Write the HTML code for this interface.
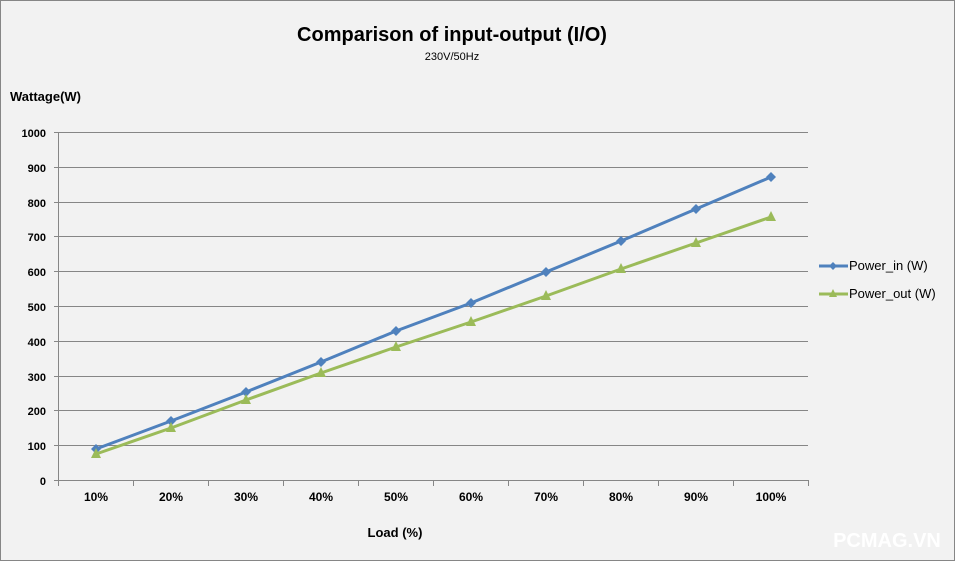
<!DOCTYPE html>
<html><head><meta charset="utf-8"><style>
html,body{margin:0;padding:0;background:#f2f2f2;}
svg{display:block;}
text{font-family:"Liberation Sans",Arial,sans-serif;}
</style></head><body>
<svg width="955" height="561" viewBox="0 0 955 561" xmlns="http://www.w3.org/2000/svg">
<rect x="0.5" y="0.5" width="954" height="560" fill="#f2f2f2" stroke="#868686"/>
<text x="452" y="41" text-anchor="middle" font-size="20" font-weight="bold" fill="#000">Comparison of input-output (I/O)</text>
<text x="452" y="60" text-anchor="middle" font-size="11" fill="#000">230V/50Hz</text>
<text x="10" y="101" font-size="13" font-weight="bold" fill="#000">Wattage(W)</text>
<g stroke="#868686" stroke-width="1">
<line x1="54" y1="132.5" x2="808" y2="132.5"/>
<line x1="54" y1="167.5" x2="808" y2="167.5"/>
<line x1="54" y1="202.5" x2="808" y2="202.5"/>
<line x1="54" y1="236.5" x2="808" y2="236.5"/>
<line x1="54" y1="271.5" x2="808" y2="271.5"/>
<line x1="54" y1="306.5" x2="808" y2="306.5"/>
<line x1="54" y1="341.5" x2="808" y2="341.5"/>
<line x1="54" y1="376.5" x2="808" y2="376.5"/>
<line x1="54" y1="410.5" x2="808" y2="410.5"/>
<line x1="54" y1="445.5" x2="808" y2="445.5"/>
<line x1="54" y1="480.5" x2="808" y2="480.5"/>
<line x1="58.5" y1="132" x2="58.5" y2="486"/>
<line x1="133.5" y1="480" x2="133.5" y2="486"/>
<line x1="208.5" y1="480" x2="208.5" y2="486"/>
<line x1="283.5" y1="480" x2="283.5" y2="486"/>
<line x1="358.5" y1="480" x2="358.5" y2="486"/>
<line x1="433.5" y1="480" x2="433.5" y2="486"/>
<line x1="508.5" y1="480" x2="508.5" y2="486"/>
<line x1="583.5" y1="480" x2="583.5" y2="486"/>
<line x1="658.5" y1="480" x2="658.5" y2="486"/>
<line x1="733.5" y1="480" x2="733.5" y2="486"/>
<line x1="808.5" y1="480" x2="808.5" y2="486"/>
</g>
<g font-size="11" font-weight="bold" text-anchor="end" fill="#000">
<text x="46" y="137">1000</text><text x="46" y="172">900</text><text x="46" y="207">800</text>
<text x="46" y="241">700</text><text x="46" y="276">600</text><text x="46" y="311">500</text>
<text x="46" y="346">400</text><text x="46" y="381">300</text><text x="46" y="415">200</text>
<text x="46" y="450">100</text><text x="46" y="485">0</text>
</g>
<g font-size="12" font-weight="bold" text-anchor="middle" fill="#000">
<text x="96" y="501">10%</text><text x="171" y="501">20%</text><text x="246" y="501">30%</text>
<text x="321" y="501">40%</text><text x="396" y="501">50%</text><text x="471" y="501">60%</text>
<text x="546" y="501">70%</text><text x="621" y="501">80%</text><text x="696" y="501">90%</text>
<text x="771" y="501">100%</text>
</g>
<text x="395" y="537" text-anchor="middle" font-size="13" font-weight="bold" fill="#000">Load (%)</text>
<polyline fill="none" stroke="#4f81bd" stroke-width="3" points="96,449 171,421 246,392 321,362 396,331 471,303 546,272 621,241 696,209 771,177"/>
<polyline fill="none" stroke="#9bbb59" stroke-width="3" points="96,454 171,428 246,400 321,373 396,347 471,322 546,296 621,269 696,243 771,217"/>
<g fill="#4f81bd">
<path d="M96,444 l5,5 l-5,5 l-5,-5z"/><path d="M171,416 l5,5 l-5,5 l-5,-5z"/><path d="M246,387 l5,5 l-5,5 l-5,-5z"/>
<path d="M321,357 l5,5 l-5,5 l-5,-5z"/><path d="M396,326 l5,5 l-5,5 l-5,-5z"/><path d="M471,298 l5,5 l-5,5 l-5,-5z"/>
<path d="M546,267 l5,5 l-5,5 l-5,-5z"/><path d="M621,236 l5,5 l-5,5 l-5,-5z"/><path d="M696,204 l5,5 l-5,5 l-5,-5z"/>
<path d="M771,172 l5,5 l-5,5 l-5,-5z"/>
</g>
<g fill="#9bbb59">
<path d="M96,448 l5,10 h-10z"/><path d="M171,422 l5,10 h-10z"/><path d="M246,394 l5,10 h-10z"/>
<path d="M321,367 l5,10 h-10z"/><path d="M396,341 l5,10 h-10z"/><path d="M471,316 l5,10 h-10z"/>
<path d="M546,290 l5,10 h-10z"/><path d="M621,263 l5,10 h-10z"/><path d="M696,237 l5,10 h-10z"/>
<path d="M771,211 l5,10 h-10z"/>
</g>
<line x1="819" y1="266" x2="848" y2="266" stroke="#4f81bd" stroke-width="3"/>
<path d="M833,262 l4,4 l-4,4 l-4,-4z" fill="#4f81bd"/>
<text x="849" y="270" font-size="13" fill="#000">Power_in (W)</text>
<line x1="819" y1="294" x2="848" y2="294" stroke="#9bbb59" stroke-width="3"/>
<path d="M833,289 l4,8 h-8z" fill="#9bbb59"/>
<text x="849" y="298" font-size="13" fill="#000">Power_out (W)</text>
<text x="887" y="547" text-anchor="middle" font-size="20" font-weight="bold" fill="#ffffff">PCMAG.VN</text>
</svg>
</body></html>
